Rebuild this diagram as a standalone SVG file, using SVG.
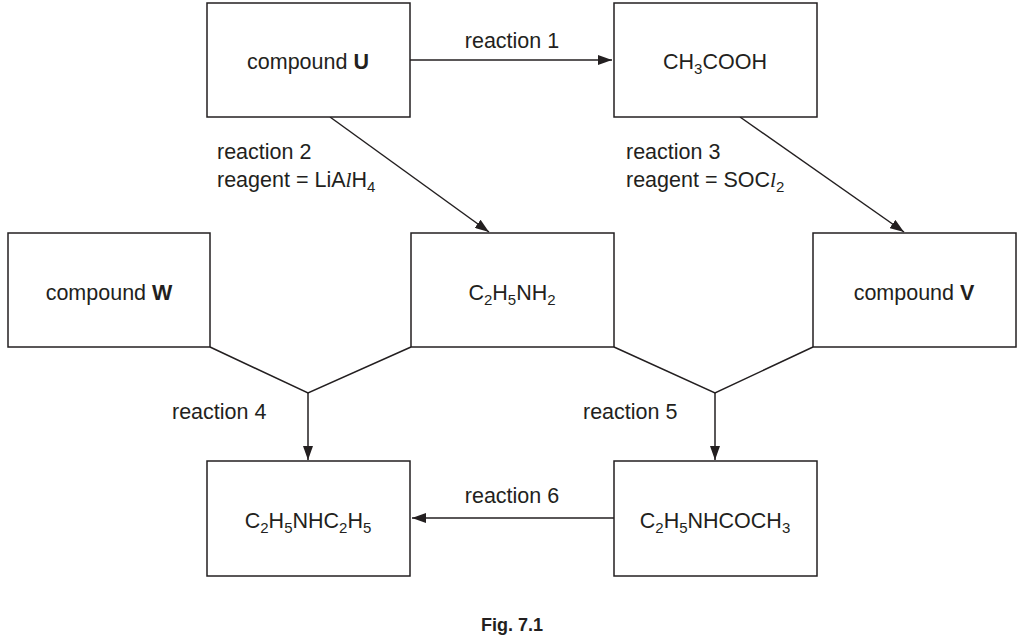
<svg xmlns="http://www.w3.org/2000/svg" width="1025" height="640" viewBox="0 0 1025 640">
<style>
rect{fill:#fff;stroke:#231f20;stroke-width:1.5}
text{font-family:"Liberation Sans",Arial,sans-serif;font-size:21.5px;fill:#231f20}
.c{text-anchor:middle}
.s{font-size:15px}
line,polyline{stroke:#231f20;stroke-width:1.5;fill:none}
</style>
<defs><marker id="a" markerWidth="14" markerHeight="10" refX="14" refY="5" orient="auto" markerUnits="userSpaceOnUse"><path d="M0,0 L14,5 L0,10 Z" fill="#231f20"/></marker></defs>
<rect width="1025" height="640" style="stroke:none"/>
<g id="connectors">
<line x1="410" y1="60" x2="612" y2="60" marker-end="url(#a)"/>
<line x1="330" y1="117" x2="489" y2="232" marker-end="url(#a)"/>
<line x1="740" y1="117" x2="904" y2="232" marker-end="url(#a)"/>
<polyline points="210,347 308,393 411,347"/>
<line x1="308" y1="393" x2="308" y2="460" marker-end="url(#a)"/>
<polyline points="614,347 715,393 813,347"/>
<line x1="715" y1="393" x2="715" y2="460" marker-end="url(#a)"/>
<line x1="614" y1="518" x2="412" y2="518" marker-end="url(#a)"/>
<text x="512" y="48" class="c">reaction 1</text>
<text x="217" y="159">reaction 2</text>
<text x="217" y="187">reagent = LiA<tspan font-family="Liberation Serif" font-style="italic">l</tspan>H<tspan class="s" dy="5">4</tspan></text>
<text x="626" y="159">reaction 3</text>
<text x="626" y="187">reagent = SOC<tspan font-family="Liberation Serif" font-style="italic">l</tspan><tspan class="s" dy="5">2</tspan></text>
<text x="172" y="419">reaction 4</text>
<text x="583" y="419">reaction 5</text>
<text x="512" y="503" class="c">reaction 6</text>
</g>
<g id="U"><rect x="207" y="3" width="203" height="114"/><text x="308" y="69" class="c">compound <tspan font-weight="bold">U</tspan></text></g>
<g id="acid"><rect x="614" y="3" width="203" height="114"/><text x="715" y="69" class="c">CH<tspan class="s" dy="5">3</tspan><tspan dy="-5">COOH</tspan></text></g>
<g id="W"><rect x="8" y="233" width="202" height="114"/><text x="109" y="300" class="c">compound <tspan font-weight="bold">W</tspan></text></g>
<g id="amine"><rect x="411" y="233" width="203" height="114"/><text x="512" y="300" class="c">C<tspan class="s" dy="5">2</tspan><tspan dy="-5">H</tspan><tspan class="s" dy="5">5</tspan><tspan dy="-5">NH</tspan><tspan class="s" dy="5">2</tspan></text></g>
<g id="V"><rect x="813" y="233" width="203" height="114"/><text x="914" y="300" class="c">compound <tspan font-weight="bold">V</tspan></text></g>
<g id="diethyl"><rect x="207" y="461" width="203" height="115"/><text x="308" y="528" class="c">C<tspan class="s" dy="5">2</tspan><tspan dy="-5">H</tspan><tspan class="s" dy="5">5</tspan><tspan dy="-5">NHC</tspan><tspan class="s" dy="5">2</tspan><tspan dy="-5">H</tspan><tspan class="s" dy="5">5</tspan></text></g>
<g id="amide"><rect x="614" y="461" width="203" height="115"/><text x="715" y="528" class="c">C<tspan class="s" dy="5">2</tspan><tspan dy="-5">H</tspan><tspan class="s" dy="5">5</tspan><tspan dy="-5">NHCOCH</tspan><tspan class="s" dy="5">3</tspan></text></g>
<text x="512" y="631" class="c" font-weight="bold" style="font-size:18px">Fig. 7.1</text>
</svg>
